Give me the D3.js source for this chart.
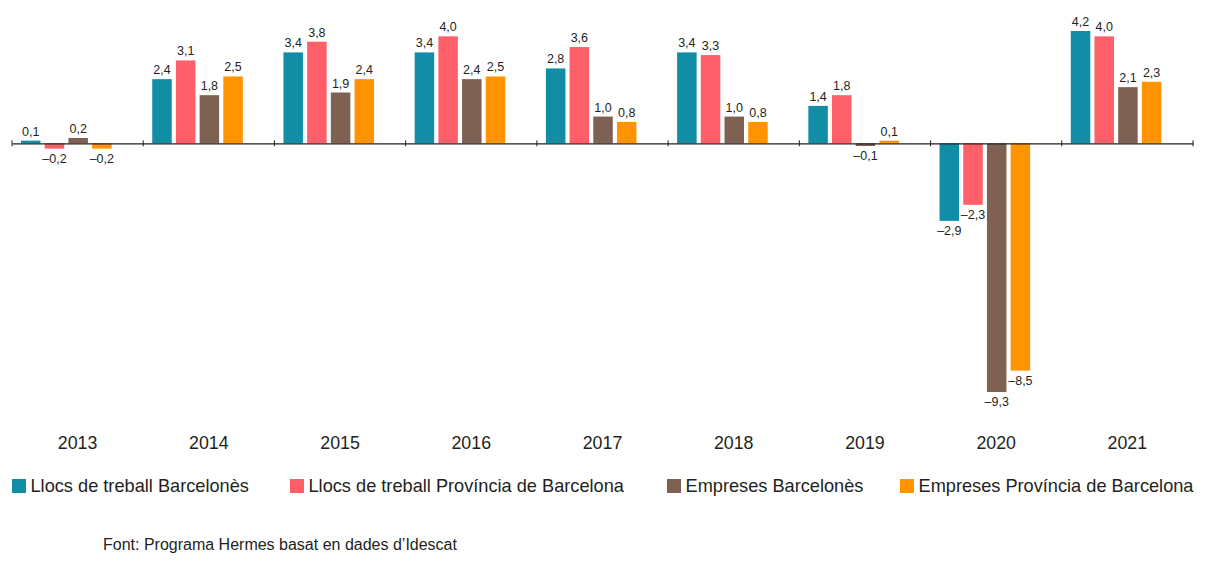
<!DOCTYPE html>
<html lang="ca">
  <head>
    <meta charset="UTF-8" />
    <title>Llocs de treball i empreses</title>
    <script src="https://d3js.org/d3.v7.min.js"></script>
    <style>
      body { margin: 0; background: #fff; }
      text { font-family: "Liberation Sans", Arial, sans-serif; fill: #231f20; }
    </style>
  </head>
  <body>
    <svg width="1206" height="563"></svg>

    <script>
      // data (% variation)
      var years = ["2013", "2014", "2015", "2016", "2017", "2018", "2019", "2020", "2021"];
      var series = [
        "Llocs de treball Barcelonès",
        "Llocs de treball Província de Barcelona",
        "Empreses Barcelonès",
        "Empreses Província de Barcelona"
      ];
      var llocsBarcelones = [0.1, 2.4, 3.4, 3.4, 2.8, 3.4, 1.4, -2.9, 4.2];
      var llocsProvincia = [-0.2, 3.1, 3.8, 4.0, 3.6, 3.3, 1.8, -2.3, 4.0];
      var empresesBarcelones = [0.2, 1.8, 1.9, 2.4, 1.0, 1.0, -0.1, -9.3, 2.1];
      var empresesProvincia = [-0.2, 2.5, 2.4, 2.5, 0.8, 0.8, 0.1, -8.5, 2.3];
      var colors = ["#118ea5", "#ff5f69", "#7e6152", "#ff9400"];
      var source = "Font: Programa Hermes basat en dades d\u2019Idescat";

      var values = [llocsBarcelones, llocsProvincia, empresesBarcelones, empresesProvincia];

      var svg = d3.select("svg");

      // scales
      var x0 = d3.scaleBand().domain(years).range([12, 1193]);
      var x1 = d3.scaleBand().domain(d3.range(series.length)).range([9, 99.6]).paddingInner(0.177);
      var y = d3.scaleLinear().domain([-9.3, 4.2]).range([392, 31]);

      var fmt = function (v) {
        var s = Math.abs(v).toFixed(1).replace(".", ",");
        return v < 0 ? "\u2013" + s : s;
      };

      // bars
      var groups = svg.selectAll("g.year")
        .data(years)
        .enter()
        .append("g")
        .attr("class", "year")
        .attr("transform", function (d) { return "translate(" + x0(d) + ",0)"; });

      groups.selectAll("rect")
        .data(function (d, i) {
          return values.map(function (arr, s) { return { s: s, v: arr[i] }; });
        })
        .enter()
        .append("rect")
        .attr("x", function (d) { return x1(d.s); })
        .attr("width", x1.bandwidth())
        .attr("y", function (d) { return y(Math.max(0, d.v)); })
        .attr("height", function (d) { return Math.abs(y(d.v) - y(0)); })
        .attr("fill", function (d) { return colors[d.s]; });

      // value labels
      groups.selectAll("text.val")
        .data(function (d, i) {
          return values.map(function (arr, s) { return { s: s, v: arr[i] }; });
        })
        .enter()
        .append("text")
        .attr("class", "val")
        .attr("x", function (d) { return x1(d.s) + x1.bandwidth() / 2; })
        .attr("y", function (d) { return d.v >= 0 ? y(d.v) - 5 : y(d.v) + 14; })
        .attr("text-anchor", "middle")
        .style("font-size", "12.5px")
        .text(function (d) { return fmt(d.v); });

      // zero line with ticks at the band edges
      var axis = d3.axisBottom(x0).tickSize(0).tickFormat("");
      var axisG = svg.append("g").attr("transform", "translate(0," + y(0) + ")").call(axis);
      axisG.select(".domain").attr("stroke", "#231f20").attr("stroke-width", 1.2);
      axisG.selectAll(".tick").remove();
      axisG.selectAll("line.edge")
        .data(years.concat(["end"]))
        .enter()
        .append("line")
        .attr("x1", function (d, i) { return 12 + i * x0.step(); })
        .attr("x2", function (d, i) { return 12 + i * x0.step(); })
        .attr("y1", -3)
        .attr("y2", 3)
        .attr("stroke", "#231f20");

      // year labels
      svg.selectAll("text.yr")
        .data(years)
        .enter()
        .append("text")
        .attr("class", "yr")
        .attr("x", function (d) { return x0(d) + x0.bandwidth() / 2; })
        .attr("y", 449)
        .attr("text-anchor", "middle")
        .style("font-size", "17.8px")
        .text(function (d) { return d; });

      // legend
      var legendX = [12, 290, 667, 900];
      series.forEach(function (name, i) {
        svg.append("rect")
          .attr("x", legendX[i]).attr("y", 479)
          .attr("width", 14).attr("height", 14)
          .attr("fill", colors[i]);
        svg.append("text")
          .attr("x", legendX[i] + 18.5)
          .attr("y", 492)
          .style("font-size", "18.2px")
          .text(name);
      });

      // source
      svg.append("text")
        .attr("x", 103)
        .attr("y", 550)
        .style("font-size", "16px")
        .text(source);
    </script>
  </body>
</html>
